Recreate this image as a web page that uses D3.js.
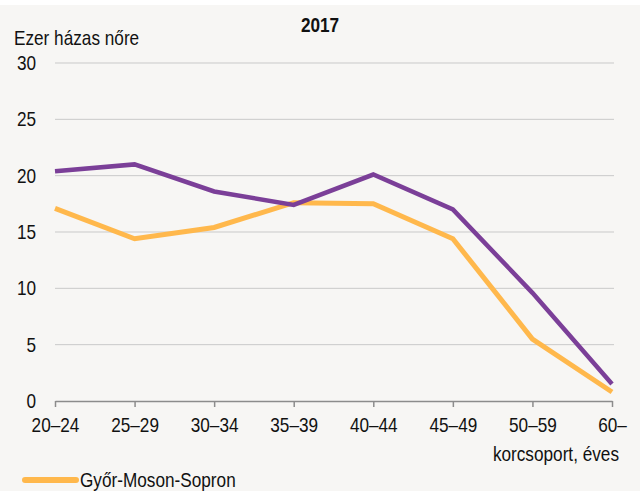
<!DOCTYPE html>
<html>
<head>
<meta charset="utf-8">
<script src="https://cdn.jsdelivr.net/npm/d3@7"></script>
<style>
  body { margin: 0; background: #ffffff; }
  svg { display: block; }
  text { font-family: "Liberation Sans", Arial, sans-serif; fill: #111; }
</style>
</head>
<body>
<div id="chart"></div>
<script>
var categories = ["20–24", "25–29", "30–34", "35–39", "40–44", "45–49", "50–59", "60–"];
var purpleValues = [20.4, 21.0, 18.6, 17.4, 20.1, 17.0, 9.6, 1.5];
var gyorValues = [17.1, 14.4, 15.4, 17.6, 17.5, 14.4, 5.5, 0.8];
var yTicks = [0, 5, 10, 15, 20, 25, 30];

var W = 640, H = 491;
var FS = "20px", SX = 0.86; // narrow look

var svg = d3.select("#chart").append("svg")
    .attr("width", W)
    .attr("height", H);

svg.append("rect")
    .attr("x", 0).attr("y", 5)
    .attr("width", W).attr("height", H - 5)
    .attr("fill", "#f7f6f4");

var x = d3.scalePoint().domain(categories).range([55, 612]);
var y = d3.scaleLinear().domain([0, 30]).range([401, 63]);

// narrow text helper
function label(px, py, txt, anchor, bold) {
  var g = svg.append("g")
      .attr("transform", "translate(" + px + "," + py + ") scale(" + SX + ",1)");
  g.append("text")
      .attr("text-anchor", anchor || "start")
      .style("font-size", FS)
      .style("font-weight", bold ? "bold" : "normal")
      .text(txt);
}

// grid
svg.append("g")
    .selectAll("line")
    .data(yTicks.filter(function(d) { return d > 0; }))
    .enter().append("line")
    .attr("x1", 55).attr("x2", 614)
    .attr("y1", function(d) { return y(d); })
    .attr("y2", function(d) { return y(d); })
    .attr("stroke", "#c9c9c9")
    .attr("stroke-width", 1);

// y labels
yTicks.forEach(function(d) {
  label(36, y(d) + 7, d, "end");
});

// x axis
var xAxis = d3.axisBottom(x).tickSize(6).tickSizeOuter(0).tickPadding(11);
var gx = svg.append("g")
    .attr("transform", "translate(0," + y(0) + ")")
    .call(xAxis);
gx.select(".domain").attr("stroke", "#8c8c8c").attr("stroke-width", 1.5);
gx.selectAll(".tick line").attr("stroke", "#8c8c8c").attr("stroke-width", 1.5);
gx.selectAll(".tick text")
    .style("font-size", FS)
    .style("font-family", "\"Liberation Sans\", Arial, sans-serif")
    .attr("fill", "#111")
    .attr("transform", "scale(" + SX + ",1)");

var line = d3.line()
    .x(function(d, i) { return x(categories[i]); })
    .y(function(d) { return y(d); });

svg.append("path")
    .datum(gyorValues)
    .attr("d", line)
    .attr("fill", "none")
    .attr("stroke", "#ffb84c")
    .attr("stroke-width", 5);

svg.append("path")
    .datum(purpleValues)
    .attr("d", line)
    .attr("fill", "none")
    .attr("stroke", "#7b3f98")
    .attr("stroke-width", 4.5);

// titles
label(320, 32, "2017", "middle", true);
label(14, 45, "Ezer házas nőre", "start");
label(619, 461, "korcsoport, éves", "end");

// legend
svg.append("line")
    .attr("x1", 25).attr("x2", 76)
    .attr("y1", 480).attr("y2", 480)
    .attr("stroke", "#ffb84c")
    .attr("stroke-width", 6)
    .attr("stroke-linecap", "round");

label(80, 487, "Győr-Moson-Sopron", "start");
</script>
</body>
</html>
